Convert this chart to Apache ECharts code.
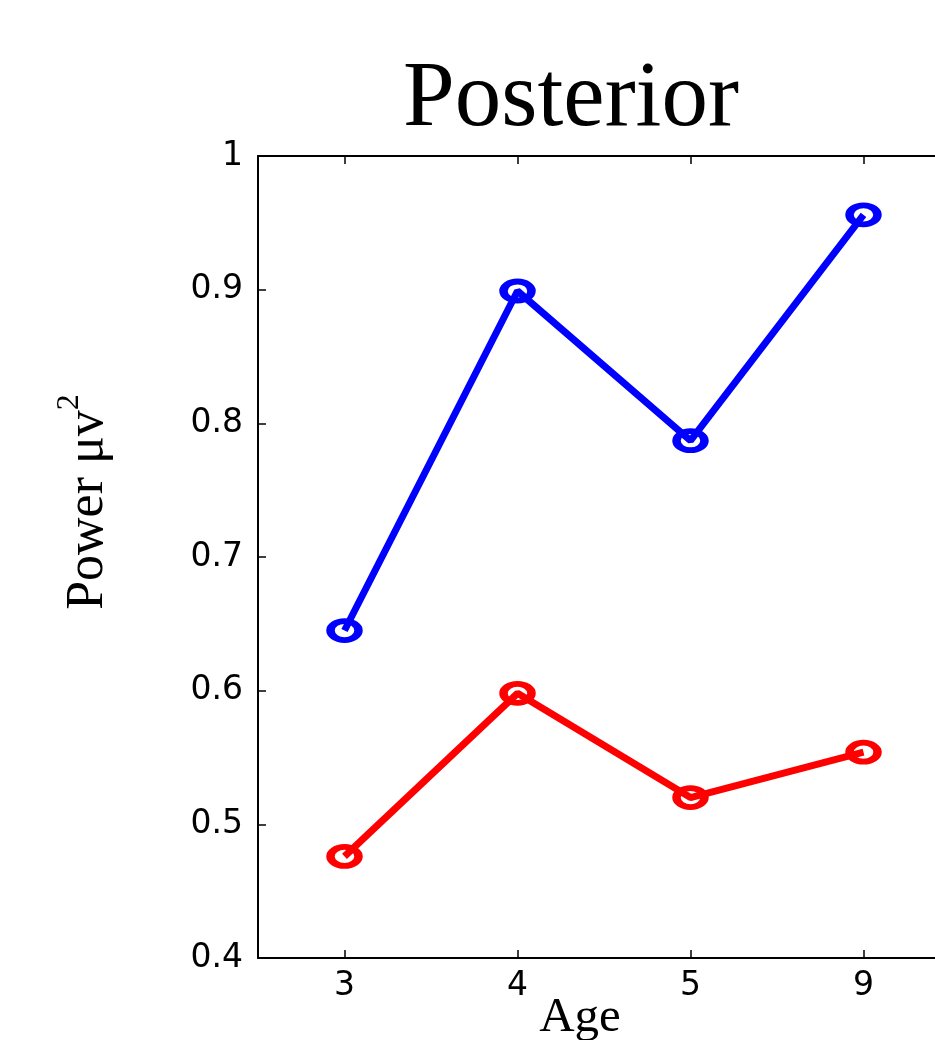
<!DOCTYPE html>
<html>
<head>
<meta charset="utf-8">
<script src="https://cdn.jsdelivr.net/npm/echarts@6/dist/echarts.min.js"></script>
<style>
html,body{margin:0;padding:0;background:#fff;overflow:hidden;width:935px;height:1040px;}
#main{width:950px;height:1040px;}
</style>
</head>
<body>
<div id="main"></div>
<script>
const titleText = 'Posterior';
const xLabel = 'Age';
const ageCategories = ['3', '4', '5', '9'];
const blueValues = [0.645, 0.899, 0.787, 0.956];
const redValues = [0.476, 0.598, 0.520, 0.554];
const yTicks = { min: 0.4, max: 1.0, interval: 0.1 };

const chart = echarts.init(document.getElementById('main'), null, { renderer: 'canvas' });

const tickLabelFont = { color: '#000', fontFamily: 'DejaVu Sans', fontSize: 33 };
const axisLine = { show: true, lineStyle: { color: '#000', width: 2 } };
const axisTick = { show: true, inside: true, length: 8, lineStyle: { color: '#000', width: 1.5 } };

function mkSeries(vals, color) {
  return {
    type: 'line',
    data: vals,
    symbol: 'circle',
    symbolSize: [28, 19],
    lineStyle: { color: color, width: 7 },
    itemStyle: { color: 'rgba(0,0,0,0)', borderColor: color, borderWidth: 7 },
    emphasis: { disabled: true },
    animation: false,
    z: 3
  };
}

chart.setOption({
  backgroundColor: '#fff',
  animation: false,
  grid: { left: 258, top: 156, width: 692, height: 802, containLabel: false },
  xAxis: [
    {
      type: 'category', data: ageCategories, position: 'bottom', boundaryGap: true,
      axisLine: axisLine,
      axisTick: Object.assign({ alignWithLabel: true }, axisTick),
      axisLabel: Object.assign({ margin: 12 }, tickLabelFont),
      splitLine: { show: false }
    },
    {
      type: 'category', data: ageCategories, position: 'top', boundaryGap: true,
      axisLine: axisLine,
      axisTick: Object.assign({ alignWithLabel: true }, axisTick),
      axisLabel: { show: false },
      splitLine: { show: false }
    }
  ],
  yAxis: [
    {
      type: 'value', position: 'left', min: yTicks.min, max: yTicks.max, interval: yTicks.interval,
      axisLine: axisLine, axisTick: axisTick,
      axisLabel: Object.assign({ margin: 15, formatter: v => (Math.round(v * 10) / 10).toString() }, tickLabelFont),
      splitLine: { show: false }
    },
    {
      type: 'value', position: 'right', min: yTicks.min, max: yTicks.max, interval: yTicks.interval,
      axisLine: axisLine, axisTick: axisTick, axisLabel: { show: false }, splitLine: { show: false }
    }
  ],
  series: [mkSeries(blueValues, '#0000ff'), mkSeries(redValues, '#ff0000')],
  graphic: [
    {
      type: 'text', x: 571, y: 101,
      style: { text: titleText, fill: '#000', font: '93px "Liberation Serif", "Times New Roman", serif', align: 'center', verticalAlign: 'middle' }
    },
    {
      type: 'text', x: 580, y: 1018,
      style: { text: xLabel, fill: '#000', font: '49px "Liberation Serif", "Times New Roman", serif', align: 'center', verticalAlign: 'middle' }
    },
    {
      type: 'text', x: 84, y: 502, rotation: Math.PI / 2,
      style: {
        text: '{a|Power μv}{b|2}',
        align: 'center', verticalAlign: 'middle',
        rich: {
          a: { fontFamily: 'Liberation Serif', fontSize: 52, fill: '#000', color: '#000', verticalAlign: 'bottom', lineHeight: 60 },
          b: { fontFamily: 'Liberation Serif', fontSize: 32, fill: '#000', color: '#000', verticalAlign: 'top', lineHeight: 60 }
        }
      }
    }
  ]
});
</script>
</body>
</html>
